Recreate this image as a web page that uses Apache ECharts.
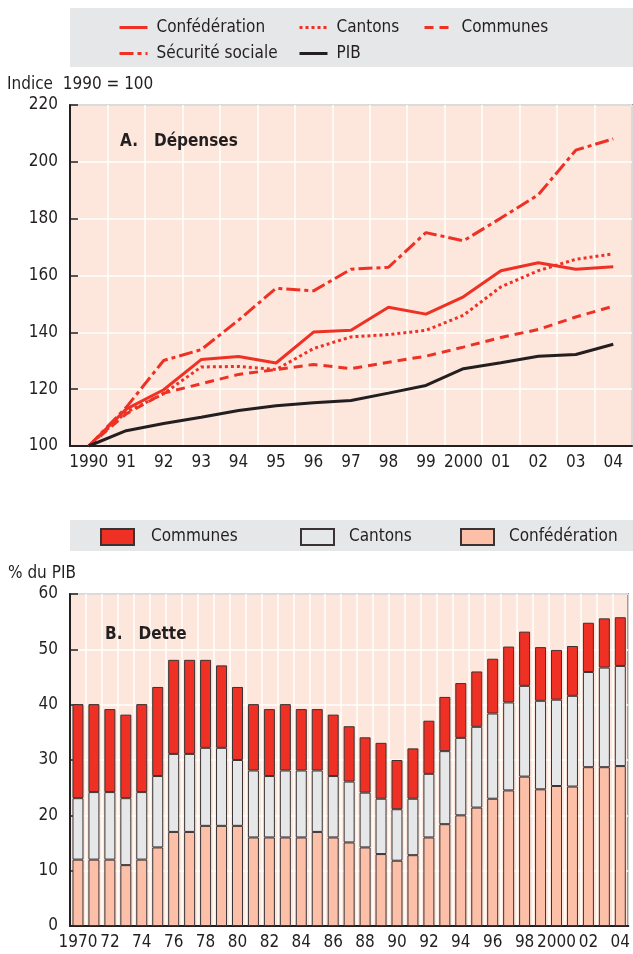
<!DOCTYPE html>
<html>
<head>
<meta charset="utf-8">
<script src="https://cdn.jsdelivr.net/npm/echarts@6/dist/echarts.min.js"></script>
<style>
  html, body { margin: 0; padding: 0; background: #fff; }
  #depenses { position: absolute; left: 0; top: 0; width: 633px; height: 490px; }
  #dette { position: absolute; left: 0; top: 490px; width: 633px; height: 464px; }
</style>
</head>
<body>
<div id="depenses"></div>
<div id="dette"></div>
<script>
// A. Dépenses, indice 1990 = 100
const yearsA = ['1990', '91', '92', '93', '94', '95', '96', '97', '98', '99', '2000', '01', '02', '03', '04']
const confederationA = [100, 113, 119.8, 130.4, 131.5, 129.2, 140.1, 140.7, 148.8, 146.4, 152.5, 161.7, 164.5, 162.2, 163.1]
const cantonsA = [100, 111.9, 118.4, 127.8, 128, 126.9, 134.3, 138.4, 139.2, 140.7, 146, 156, 161.7, 165.7, 167.6]
const communesA = [100, 111.3, 118.6, 121.9, 125.2, 126.9, 128.7, 127.2, 129.5, 131.6, 134.8, 138.2, 141, 145.4, 149.2]
const securiteA = [100, 113.6, 130.1, 133.9, 144.3, 155.5, 154.6, 162.2, 162.9, 175.1, 172.2, 180.2, 188.4, 204.1, 208.1]
const pibA = [100, 105.4, 107.9, 110.1, 112.5, 114.2, 115.2, 116, 118.6, 121.3, 127.2, 129.3, 131.6, 132.2, 135.8]

// B. Dette, % du PIB (part de chaque niveau, empilée)
const yearsB = ['1970', '71', '72', '73', '74', '75', '76', '77', '78', '79',
  '80', '81', '82', '83', '84', '85', '86', '87', '88', '89',
  '90', '91', '92', '93', '94', '95', '96', '97', '98', '99',
  '2000', '01', '02', '03', '04']
const confederationB = [12, 12, 12, 11, 12, 14.2, 17, 17, 18.1, 18.1,
  18.1, 16, 16, 16, 16, 17, 16, 15.1, 14.2, 13,
  11.8, 12.8, 16, 18.4, 20, 21.4, 23, 24.5, 27, 24.7,
  25.3, 25.2, 28.7, 28.7, 28.9]
const cantonsB = [11.1, 12.2, 12.2, 12.1, 12.2, 12.9, 14.1, 14.1, 14.1, 14.1,
  11.9, 12.1, 11.1, 12.1, 12.1, 11.1, 11.1, 11, 9.9, 10,
  9.3, 10.2, 11.5, 13.2, 14, 14.6, 15.4, 15.9, 16.4, 16,
  15.6, 16.4, 17.2, 18, 18.1]
const communesB = [17, 15.9, 15, 15.1, 15.9, 16.1, 17, 17, 15.9, 14.9,
  13.2, 12, 12.1, 12, 11.1, 11.1, 11.1, 10, 10, 10.1,
  8.9, 9.1, 9.6, 9.8, 9.9, 10, 9.9, 10.1, 9.8, 9.7,
  9, 9, 8.9, 8.9, 8.8]

const FONT = '"Liberation Sans Narrow", "DejaVu Sans Condensed", "Liberation Sans", sans-serif'
const INK = '#231f20'
const RED = '#ee3124'
const PLOT_BG = '#fde6dc'
const LEGEND_BG = '#e6e7e8'

function legendAt(name, left, top, extra) {
  return Object.assign({
    data: [name],
    left: left,
    top: top,
    padding: 0,
    selectedMode: false,
    itemWidth: 28,
    itemHeight: 14,
    // hide the symbol drawn on the legend line, keep only the line
    itemStyle: { opacity: 0 },
    lineStyle: { width: 3 },
    textStyle: { fontFamily: FONT, fontSize: 17, color: INK, padding: [0, 0, 0, 4] }
  }, extra || {})
}

function lineSeries(name, data, color, type) {
  return {
    name: name,
    type: 'line',
    data: data,
    symbol: 'none',
    smooth: false,
    lineStyle: { color: color, width: 3, type: type, cap: 'butt' },
    itemStyle: { color: color }
  }
}

const chartA = echarts.init(document.getElementById('depenses'))
chartA.setOption({
  animation: false,
  textStyle: { fontFamily: FONT },
  graphic: [
    { type: 'rect', left: 70, top: 8, shape: { width: 563, height: 59 }, style: { fill: LEGEND_BG }, z: -1 },
    { type: 'text', left: 7, top: 76, style: { text: 'Indice  1990 = 100', font: '17px ' + FONT, fill: INK } },
    { type: 'text', left: 120, top: 133, style: { text: 'A.   Dépenses', font: 'bold 17px ' + FONT, fill: INK }, z: 10 }
  ],
  legend: [
    legendAt('Confédération', 118, 19),
    legendAt('Cantons', 298, 19),
    legendAt('Communes', 423, 19),
    legendAt('Sécurité sociale', 118, 45),
    legendAt('PIB', 298, 45)
  ],
  grid: {
    left: 70, right: 1, top: 105, bottom: 44,
    show: true, backgroundColor: PLOT_BG, borderColor: '#444', borderWidth: 1.5
  },
  xAxis: {
    type: 'category',
    data: yearsA,
    boundaryGap: true,
    axisLine: { lineStyle: { color: INK, width: 2 } },
    axisTick: { inside: true, length: 8, lineStyle: { color: INK, width: 1.5 } },
    axisLabel: { fontSize: 17, color: INK, margin: 8, interval: 0, fontFamily: FONT },
    splitLine: { show: true, lineStyle: { color: '#fff', width: 1.5 } }
  },
  yAxis: {
    type: 'value',
    min: 100,
    max: 220,
    interval: 20,
    axisLine: { show: true, lineStyle: { color: INK, width: 2 } },
    axisTick: { show: true, inside: true, length: 8, lineStyle: { color: INK, width: 1.5 } },
    axisLabel: { fontSize: 17, color: INK, margin: 12, fontFamily: FONT },
    splitLine: { lineStyle: { color: '#fff', width: 1.5 } }
  },
  series: [
    lineSeries('Confédération', confederationA, RED, 'solid'),
    lineSeries('Cantons', cantonsA, RED, [3, 3]),
    lineSeries('Communes', communesA, RED, [9, 6]),
    lineSeries('Sécurité sociale', securiteA, RED, [14, 4, 4, 4]),
    lineSeries('PIB', pibA, INK, 'solid')
  ]
})

function barSeries(name, data, color) {
  return {
    name: name,
    type: 'bar',
    stack: 'dette',
    data: data,
    barWidth: 11,
    itemStyle: { color: color, borderColor: '#3a3233', borderWidth: 1 }
  }
}

function boxLegend(name, left, gap) {
  return legendAt(name, left, 38, {
    icon: 'rect', itemWidth: 33, itemHeight: 16,
    itemStyle: {},
    textStyle: { fontFamily: FONT, fontSize: 17, color: INK, padding: [0, 0, 0, gap] }
  })
}

const chartB = echarts.init(document.getElementById('dette'))
chartB.setOption({
  animation: false,
  textStyle: { fontFamily: FONT },
  graphic: [
    { type: 'rect', left: 70, top: 30, shape: { width: 563, height: 31 }, style: { fill: LEGEND_BG }, z: -1 },
    { type: 'text', left: 8, top: 75, style: { text: '% du PIB', font: '17px ' + FONT, fill: INK } },
    { type: 'text', left: 105, top: 136, style: { text: 'B.   Dette', font: 'bold 17px ' + FONT, fill: INK }, z: 10 }
  ],
  legend: [
    boxLegend('Communes', 100, 12),
    boxLegend('Cantons', 300, 10),
    boxLegend('Confédération', 460, 10)
  ],
  grid: {
    left: 70, right: 2, top: 104, bottom: 28,
    show: true, backgroundColor: PLOT_BG, borderColor: '#444', borderWidth: 1.5
  },
  xAxis: {
    type: 'category',
    data: yearsB,
    boundaryGap: true,
    axisLine: { lineStyle: { color: INK, width: 2 } },
    axisTick: { inside: true, length: 6, interval: 0, lineStyle: { color: INK, width: 1.5 } },
    axisLabel: { fontSize: 17, color: INK, margin: 8, interval: 1, fontFamily: FONT },
    splitLine: { show: true, interval: 0, lineStyle: { color: '#fff', width: 1.5 } }
  },
  yAxis: {
    type: 'value',
    min: 0,
    max: 60,
    interval: 10,
    axisLine: { show: true, lineStyle: { color: INK, width: 2 } },
    axisTick: { show: true, inside: true, length: 8, lineStyle: { color: INK, width: 1.5 } },
    axisLabel: { fontSize: 17, color: INK, margin: 12, fontFamily: FONT },
    splitLine: { lineStyle: { color: '#fff', width: 1.5 } }
  },
  series: [
    barSeries('Confédération', confederationB, '#fcbfa8'),
    barSeries('Cantons', cantonsB, '#e6e7e9'),
    barSeries('Communes', communesB, RED)
  ]
})
</script>
</body>
</html>
